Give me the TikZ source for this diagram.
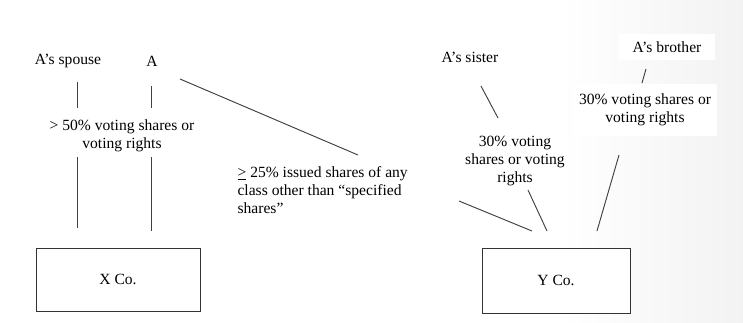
\documentclass[tikz,border=0pt]{standalone}
\usepackage{fontspec}
\setmainfont{Liberation Serif}
\usepackage{tikz}
\usetikzlibrary{positioning}
\tikzset{
  own-label/.style={align=center, font=\fontsize{13.3}{15.5}\selectfont, inner sep=2pt, fill=white},
  own-company/.style={draw=black!80, fill=white, line width=0.8pt, align=center,
    font=\fontsize{13.3}{15.5}\selectfont},
  own-link/.style={draw=black!75, line width=0.8pt}
}

\begin{document}
\begin{tikzpicture}[x=0.03cm, y=-0.03cm]
  % Canvas with a faint grey fade at the right edge
  \useasboundingbox (0,0) rectangle (743,322);
  \fill[white] (0,0) rectangle (743,322);
  \shade[left color=white, right color=black!5] (560,0) rectangle (743,322);

  % Persons
  \node[own-label] (spouse) at (68,61) {A's spouse};
  \node[own-label] (a) at (152,61) {A};
  \node[own-label] (sister) at (470,57) {A's sister};
  \node[own-label, inner xsep=12pt, inner ysep=6pt] (brother) at (667,47) {A's brother};

  % Companies
  \node[own-company, minimum width=164*0.03cm, minimum height=63*0.03cm] (xco) at (118,279.5) {X Co.};
  \node[own-company, minimum width=148*0.03cm, minimum height=65*0.03cm] (yco) at (556,280.5) {Y Co.};

  % Holding labels
  \node[own-label] (xvote) at (122,136) {> 50\% voting shares or\\voting rights};
  \node[own-label, anchor=west, align=left] (yissued) at (235,190) {\underline{>} 25\% issued shares of any\\class other than ``specified\\shares''};
  \node[own-label] (yvote1) at (515,161) {30\% voting\\shares or voting\\rights};
  \node[own-label, inner xsep=5pt, inner ysep=8pt] (yvote2) at (645,110) {30\% voting shares or\\voting rights};

  % Line end points
  \coordinate (sp1) at (77,82);   \coordinate (sp2) at (77,108);
  \coordinate (sp3) at (77,157);  \coordinate (sp4) at (77,228);
  \coordinate (a1) at (151,86);   \coordinate (a2) at (151,108);
  \coordinate (a3) at (151,157);  \coordinate (a4) at (151,231);
  \coordinate (a5) at (180,79);   \coordinate (a6) at (358,155);
  \coordinate (is1) at (459,201); \coordinate (is2) at (532,231);
  \coordinate (si1) at (481,86);  \coordinate (si2) at (498,118);
  \coordinate (si3) at (528,190); \coordinate (si4) at (547,231);
  \coordinate (br1) at (646,69);  \coordinate (br2) at (642,83);
  \coordinate (br3) at (619,155); \coordinate (br4) at (597,231);

  % Holding links
  \draw[own-link] (sp1) -- (sp2);
  \draw[own-link] (sp3) -- (sp4);
  \draw[own-link] (a1) -- (a2);
  \draw[own-link] (a3) -- (a4);
  \draw[own-link] (a5) -- (a6);
  \draw[own-link] (is1) -- (is2);
  \draw[own-link] (si1) -- (si2);
  \draw[own-link] (si3) -- (si4);
  \draw[own-link] (br1) -- (br2);
  \draw[own-link] (br3) -- (br4);
\end{tikzpicture}
\end{document}
